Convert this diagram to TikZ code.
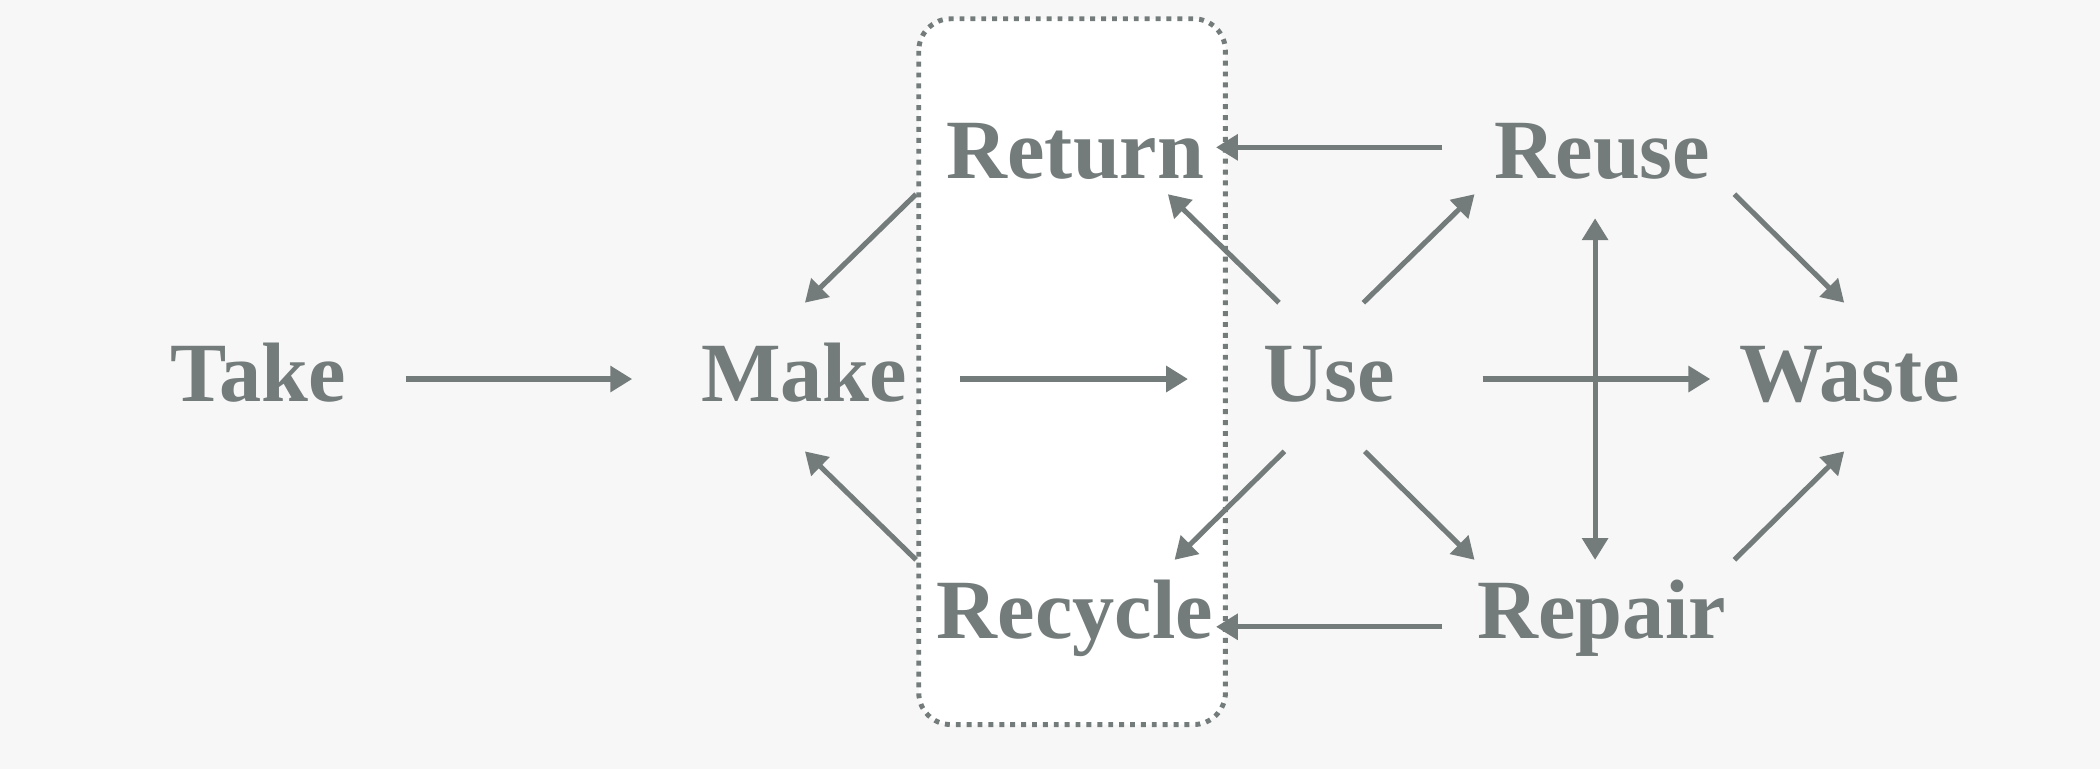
\documentclass[tikz,border=0pt]{standalone}
\usepackage{fontspec}
\setmainfont{Liberation Serif}
\usetikzlibrary{arrows.meta}
\definecolor{bgc}{HTML}{F8F7F8}
\definecolor{ink}{HTML}{737B7B}
\begin{document}
\begin{tikzpicture}[x=0.0133929cm,y=-0.0133929cm,
  lbl/.style={anchor=base,inner sep=0pt,text=ink,font=\fontsize{24}{28}\selectfont\bfseries},
  arr/.style={draw=ink,line width=1.45pt,-{Triangle[length=6.2pt,width=7.2pt]}},
  darr/.style={draw=ink,line width=1.45pt,{Triangle[length=6.2pt,width=7.2pt]}-{Triangle[length=6.2pt,width=7.2pt]}},
  boxst/.style={draw=ink,fill=white,line width=1.4pt,dash pattern=on 1.4pt off 1.7pt,rounded corners=0.32cm}]
\fill[bgc] (0,0) rectangle (1568,574.2);
\useasboundingbox (0,0) rectangle (1568,574.2);
\draw[boxst] (686,14) rectangle (915,541);
\node[lbl] (take) at (193,300) {Take};
\node[lbl] (make) at (600.5,300) {Make};
\node[lbl] (use) at (992.5,300) {Use};
\node[lbl] (waste) at (1381,300) {Waste};
\node[lbl] (return) at (803,133) {Return};
\node[lbl] (reuse) at (1196.5,133) {Reuse};
\node[lbl] (recycle) at (802.5,477) {Recycle};
\node[lbl] (repair) at (1196,477) {Repair};
\draw[arr] ([shift={(110,-17)}]take.base) -- ([shift={(-128.5,-17)}]make.base);
\draw[arr] ([shift={(116.5,-17)}]make.base) -- ([shift={(-105.5,-17)}]use.base);
\draw[arr] ([shift={(114.5,-17)}]use.base) -- ([shift={(-104,-17)}]waste.base);
\draw[darr] ([shift={(-5.5,30)}]reuse.base) -- ([shift={(-5,-59)}]repair.base);
\draw[arr] ([shift={(-119.5,-23)}]reuse.base) -- ([shift={(105,-23)}]return.base);
\draw[arr] ([shift={(-119,-9)}]repair.base) -- ([shift={(105.5,-9)}]recycle.base);
\draw[arr] ([shift={(-37.5,-74)}]use.base) -- ([shift={(69,12)}]return.base);
\draw[arr] ([shift={(25.5,-74)}]use.base) -- ([shift={(-95.5,12)}]reuse.base);
\draw[arr] ([shift={(-33.5,37)}]use.base) -- ([shift={(74.5,-59)}]recycle.base);
\draw[arr] ([shift={(26.5,37)}]use.base) -- ([shift={(-95,-59)}]repair.base);
\draw[arr] ([shift={(-119,12)}]return.base) -- ([shift={(0.5,-74)}]make.base);
\draw[arr] ([shift={(-118.5,-59)}]recycle.base) -- ([shift={(0.5,37)}]make.base);
\draw[arr] ([shift={(98.5,12)}]reuse.base) -- ([shift={(-4,-74)}]waste.base);
\draw[arr] ([shift={(99,-59)}]repair.base) -- ([shift={(-4,37)}]waste.base);
\end{tikzpicture}
\end{document}
